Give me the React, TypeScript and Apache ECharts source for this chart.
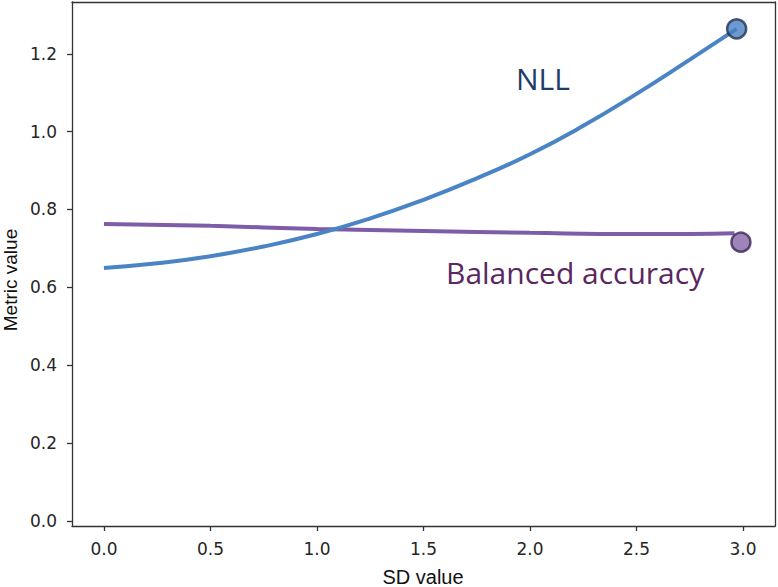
import React, { useEffect, useRef } from "react";
import * as echarts from "echarts";

// SD values and the two metrics traced along them
const nllX = [0, 0.25, 0.5, 0.75, 1.0, 1.25, 1.5, 1.75, 2.0, 2.25, 2.5, 2.75, 2.97];
const nllY = [0.65, 0.662, 0.68, 0.705, 0.737, 0.777, 0.825, 0.88, 0.942, 1.015, 1.097, 1.185, 1.264];
const accX = [0, 0.5, 1.0, 1.5, 2.0, 2.5, 2.75, 2.96];
const accY = [0.763, 0.758, 0.75, 0.745, 0.74, 0.737, 0.737, 0.739];

// end-point markers
const nllPoint = [2.97, 1.264];
const accPoint = [2.99, 0.716];

const xTicks = [0, 0.5, 1.0, 1.5, 2.0, 2.5, 3.0];
const yTicks = [0, 0.2, 0.4, 0.6, 0.8, 1.0, 1.2];

const X_MIN = -0.15;
const X_MAX = 3.15;
const Y_MIN = -0.013;
const Y_MAX = 1.333;

const BLUE = "#4a84c4";
const PURPLE = "#7d5ca8";
const AXIS = "#333333";
const TICK_FONT = "DejaVu Sans";

export default function App() {
  const ref = useRef<HTMLDivElement>(null);

  useEffect(() => {
    if (!ref.current) return;
    const chart = echarts.init(ref.current, null, { renderer: "svg" });

    const spine = { show: true, onZero: false, lineStyle: { color: AXIS, width: 1.3 } };
    const tick = { show: true, inside: false, length: 5, lineStyle: { color: AXIS, width: 1.3 } };
    const label = {
      formatter: (v: number) => v.toFixed(1),
      fontFamily: TICK_FONT,
      fontSize: 17,
      color: "#262626",
    };
    // frame-only axes for the top and right spines
    const frame = {
      type: "value" as const,
      axisLine: spine,
      axisTick: { show: false },
      axisLabel: { show: false },
      splitLine: { show: false },
    };

    chart.setOption({
      animation: false,
      backgroundColor: "#ffffff",
      grid: { left: 72, top: 2, right: 3, bottom: 61 },
      xAxis: [
        {
          type: "value",
          min: X_MIN,
          max: X_MAX,
          axisLine: spine,
          axisTick: { ...tick, customValues: xTicks },
          axisLabel: { ...label, customValues: xTicks, margin: 14 },
          splitLine: { show: false },
        },
        { ...frame, position: "top", min: X_MIN, max: X_MAX },
      ],
      yAxis: [
        {
          type: "value",
          min: Y_MIN,
          max: Y_MAX,
          axisLine: spine,
          axisTick: { ...tick, customValues: yTicks },
          axisLabel: { ...label, customValues: yTicks, margin: 15 },
          splitLine: { show: false },
        },
        { ...frame, position: "right", min: Y_MIN, max: Y_MAX },
      ],
      graphic: [
        {
          type: "text",
          x: 423,
          y: 587,
          style: {
            text: "SD value",
            fontFamily: "Liberation Sans",
            fontSize: 20,
            fill: "#111111",
            textAlign: "center",
            textVerticalAlign: "bottom",
          },
        },
        {
          type: "text",
          x: 10,
          y: 280,
          rotation: Math.PI / 2,
          style: {
            text: "Metric value",
            fontFamily: "Liberation Sans",
            fontSize: 19,
            fill: "#111111",
            textAlign: "center",
            textVerticalAlign: "middle",
          },
        },
        {
          type: "text",
          x: 516,
          y: 63,
          style: { text: "NLL", fontFamily: "Open Sans", fontSize: 30, fill: "#1f3d66" },
        },
        {
          type: "text",
          x: 446,
          y: 257,
          style: { text: "Balanced accuracy", fontFamily: "Open Sans", fontSize: 30, fill: "#5a2760" },
        },
      ],
      series: [
        {
          type: "line",
          name: "Balanced accuracy",
          data: accX.map((x, i) => [x, accY[i]]),
          smooth: true,
          showSymbol: false,
          lineStyle: { color: PURPLE, width: 4 },
          z: 2,
        },
        {
          type: "line",
          name: "NLL",
          data: nllX.map((x, i) => [x, nllY[i]]),
          smooth: true,
          showSymbol: false,
          lineStyle: { color: BLUE, width: 4 },
          z: 3,
        },
        {
          type: "scatter",
          data: [nllPoint],
          symbolSize: 19,
          itemStyle: { color: "#4a80c2", borderColor: "#1e3350", borderWidth: 2.5 },
          z: 4,
        },
        {
          type: "scatter",
          data: [accPoint],
          symbolSize: 19,
          itemStyle: { color: "#8765aa", borderColor: "#3a2552", borderWidth: 2.5 },
          z: 4,
        },
      ],
    });

    return () => chart.dispose();
  }, []);

  return (
    <div
      ref={ref}
      style={{ position: "fixed", left: 0, top: 0, width: 778, height: 587, overflow: "hidden" }}
    />
  );
}
